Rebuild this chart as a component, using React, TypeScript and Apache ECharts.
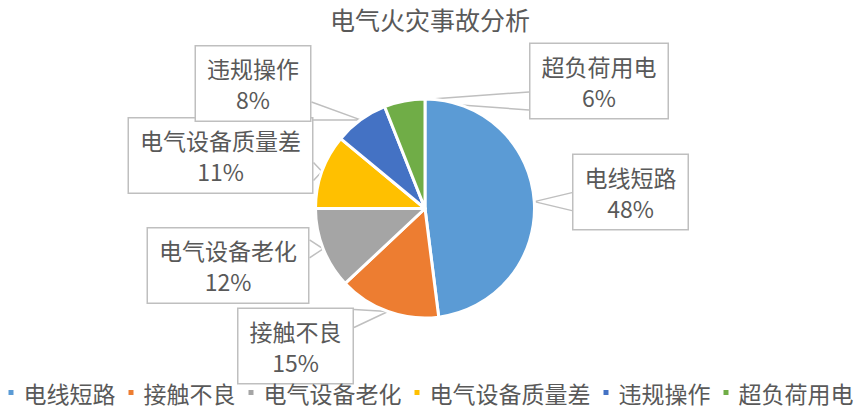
import React, { useEffect, useRef } from 'react';
import * as echarts from 'echarts';

// Chart data
const categories = ['电线短路', '接触不良', '电气设备老化', '电气设备质量差', '违规操作', '超负荷用电'];
const shares = [48, 15, 12, 11, 8, 6];
const colors = ['#5B9BD5', '#ED7D31', '#A5A5A5', '#FFC000', '#4472C4', '#70AD47'];

// Where each callout box sits (centre, px)
const boxCentres = [
  [630.5, 192],
  [295.5, 346],
  [228, 265.5],
  [220.5, 155.5],
  [253, 83.5],
  [599, 81],
];

const FONT = '"Noto Sans CJK SC", "Noto Sans", sans-serif';
const TEXT = '#595959';
const GREY = '#BFBFBF';

// wedge-like callout pointer: box side -> slice edge -> box side
function callout(tip: number[], l: number, t: number, w: number, h: number) {
  const r = l + w;
  const b = t + h;
  const half = 9;
  const clamp = (v: number, lo: number, hi: number) => Math.max(lo, Math.min(hi, v));
  if (tip[0] < l) {
    const c = clamp(tip[1], t + half + 2, b - half - 2);
    return [[l, c - half], tip, [l, c + half]];
  }
  if (tip[0] > r) {
    const c = clamp(tip[1], t + half + 2, b - half - 2);
    return [[r, c - half], tip, [r, c + half]];
  }
  const c = clamp(tip[0], l + half + 2, r - half - 2);
  const y = tip[1] < t ? t : b;
  return [[c - half, y], tip, [c + half, y]];
}

const App: React.FC = () => {
  const chartRef = useRef<HTMLDivElement | null>(null);

  useEffect(() => {
    if (!chartRef.current) return;
    const chart = echarts.init(chartRef.current, undefined, { renderer: 'svg' });

    const option: echarts.EChartsOption = {
      animation: false,
      textStyle: { fontFamily: FONT },
      title: {
        text: '电气火灾事故分析',
        left: 'center',
        top: 5,
        padding: 0,
        textStyle: { fontSize: 25, lineHeight: 28, fontWeight: 'normal', color: TEXT, fontFamily: FONT },
      },
      legend: {
        data: categories,
        bottom: 6,
        left: 'center',
        padding: 0,
        icon: 'rect',
        itemWidth: 7,
        itemHeight: 7,
        itemGap: 11,
        textStyle: { fontSize: 23, color: TEXT, fontFamily: FONT, padding: [0, 0, 0, 4], lineHeight: 22 },
      },
      series: [
        {
          type: 'pie',
          center: [425, 208.5],
          radius: 109.5,
          startAngle: 90,
          clockwise: true,
          avoidLabelOverlap: false,
          itemStyle: { borderColor: '#fff', borderWidth: 3 },
          label: {
            show: true,
            position: 'outside',
            formatter: (p: any) => `${p.name}\n${Math.round(p.percent)}%`,
            fontSize: 23,
            lineHeight: 31,
            color: TEXT,
            fontFamily: FONT,
            backgroundColor: '#fff',
            borderColor: GREY,
            borderWidth: 1.5,
            padding: [6, 11],
            align: 'center',
          },
          labelLine: {
            show: true,
            length: 10,
            length2: 10,
            lineStyle: { color: GREY, width: 1.5 },
          },
          labelLayout: (params: any) => {
            const [cx, cy] = boxCentres[params.dataIndex];
            const w = params.labelRect.width;
            const h = params.labelRect.height;
            const pts = params.labelLinePoints;
            const res: any = { x: cx, y: cy, align: 'center', verticalAlign: 'middle' };
            if (pts && pts.length) {
              res.labelLinePoints = callout([pts[0][0], pts[0][1]], cx - w / 2, cy - h / 2, w, h);
            }
            return res;
          },
          emphasis: { disabled: true },
          data: categories.map((name, i) => ({
            name,
            value: shares[i],
            itemStyle: { color: colors[i] },
          })),
        },
      ],
    };

    chart.setOption(option);
    return () => {
      chart.dispose();
    };
  }, []);

  return (
    <div
      ref={chartRef}
      style={{ position: 'fixed', left: 0, top: 0, width: '860px', height: '410px', background: '#fff' }}
    />
  );
};

export default App;
